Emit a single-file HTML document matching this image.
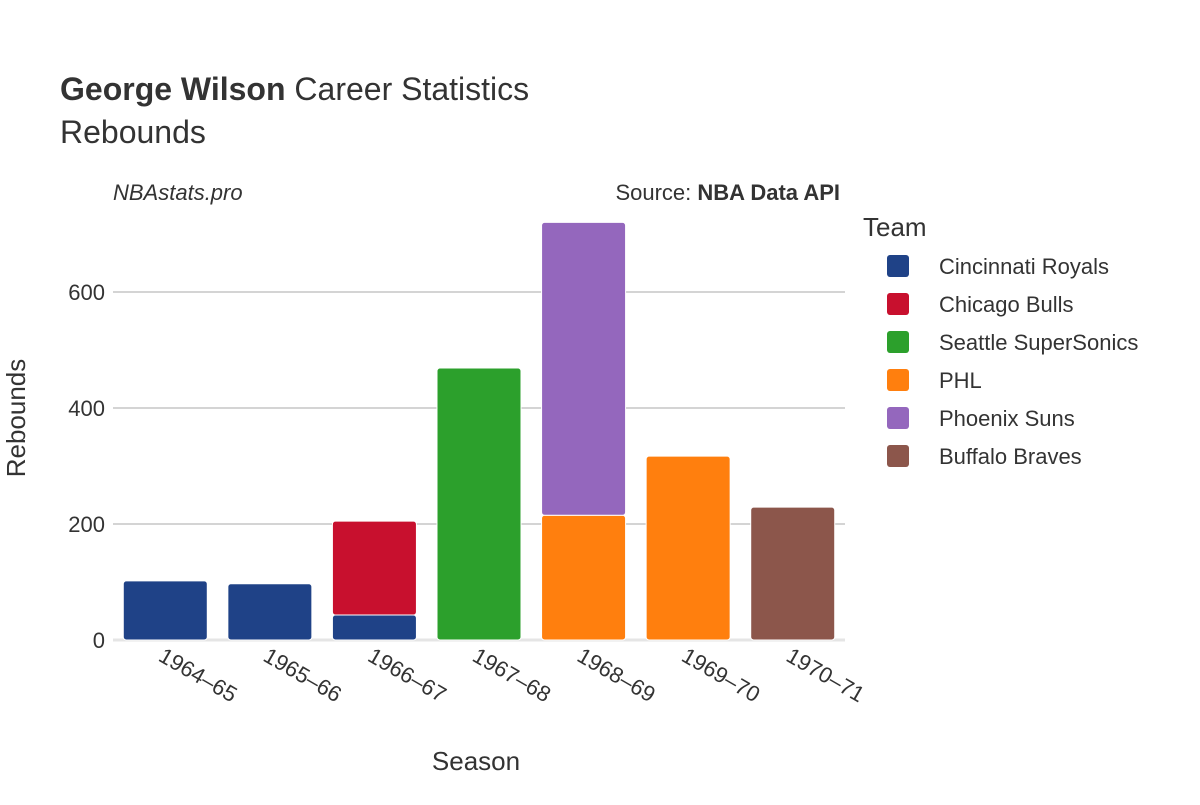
<!DOCTYPE html>
<html><head><meta charset="utf-8"><style>
body{margin:0;background:#fff}
svg{font-family:"Liberation Sans","DejaVu Sans",sans-serif}
</style></head><body>
<svg id="chart" width="1200" height="800" viewBox="0 0 1200 800">
<rect width="1200" height="800" fill="#fff"/>
<text x="60" y="100" font-size="32" fill="#333"><tspan font-weight="bold">George Wilson</tspan> Career Statistics</text>
<text x="60" y="143" font-size="32" fill="#333">Rebounds</text>
<text x="113" y="200" font-size="22" font-style="italic" fill="#333">NBAstats.pro</text>
<text x="840" y="200" font-size="22" fill="#333" text-anchor="end">Source: <tspan font-weight="bold">NBA Data API</tspan></text>
<g id="grid"></g>
<g id="bars"></g>
<g id="xticks"></g>
<text x="476" y="770" font-size="26" fill="#333" text-anchor="middle">Season</text>
<text transform="translate(25,418) rotate(-90)" font-size="26" fill="#333" text-anchor="middle">Rebounds</text>
<text x="863" y="236" font-size="26" fill="#333">Team</text>
<g id="legend"></g>
</svg>
<script>
const seasons=["1964–65","1965–66","1966–67","1967–68","1968–69","1969–70","1970–71"];
const teams=["Cincinnati Royals","Chicago Bulls","Seattle SuperSonics","PHL","Phoenix Suns","Buffalo Braves"];
const colors=["#1f4287","#c8102e","#2ca02c","#ff7f0e","#9467bd","#8c564b"];
const cincinnati=[102,97,43,0,0,0,0];
const chicago=[0,0,162,0,0,0,0];
const seattle=[0,0,0,469,0,0,0];
const phl=[0,0,0,0,215,317,0];
const phoenix=[0,0,0,0,505,0,0];
const buffalo=[0,0,0,0,0,0,229];
const yTicks=[0,200,400,600];
const series=[cincinnati,chicago,seattle,phl,phoenix,buffalo];
const NS="http://www.w3.org/2000/svg";
const x0=113,x1=845,y0=640,yMax=600,yPix=348;
const y=v=>y0-v*yPix/yMax;
const band=(x1-x0)/seasons.length;
const xc=i=>x0+band*(i+0.5);
function mk(t,a,p){const e=document.createElementNS(NS,t);for(const k in a)e.setAttribute(k,a[k]);p.appendChild(e);return e;}
const grid=document.getElementById('grid');
yTicks.forEach(v=>{
 const l=mk('line',{x1:x0,x2:x1,y1:y(v),y2:y(v),stroke:v===0?'#e5e5e5':'#bbb','stroke-width':v===0?3:1.3},grid);
 
 
 const t=mk('text',{x:105,y:y(v)+8,'font-size':22,fill:'#333','text-anchor':'end'},grid);
 t.textContent=v;
 
 
});
const bars=document.getElementById('bars');
seasons.forEach((s,i)=>{
 let base=0;
 series.forEach((arr,k)=>{
  const v=arr[i]; if(!v) return;
  const r=mk('rect',{x:xc(i)-42,y:y(base+v),width:84,height:y(base)-y(base+v),fill:colors[k],stroke:'#fff','stroke-width':1,rx:3},bars);
  
  
  base+=v;
 });
 const t=mk('text',{transform:`translate(${xc(i)-8},${660}) rotate(30)`,'font-size':22,fill:'#333'},document.getElementById('xticks'));
 t.textContent=s;
 
 
});
const lg=document.getElementById('legend');
teams.forEach((tm,k)=>{
 const g=mk('g',{},lg);
 
 
 mk('rect',{x:887,y:255+k*38,width:22,height:22,rx:3,fill:colors[k]},g);
 const t=mk('text',{x:939,y:274+k*38,'font-size':22,fill:'#333'},g);
 t.textContent=tm;
});
</script>
</body></html>
